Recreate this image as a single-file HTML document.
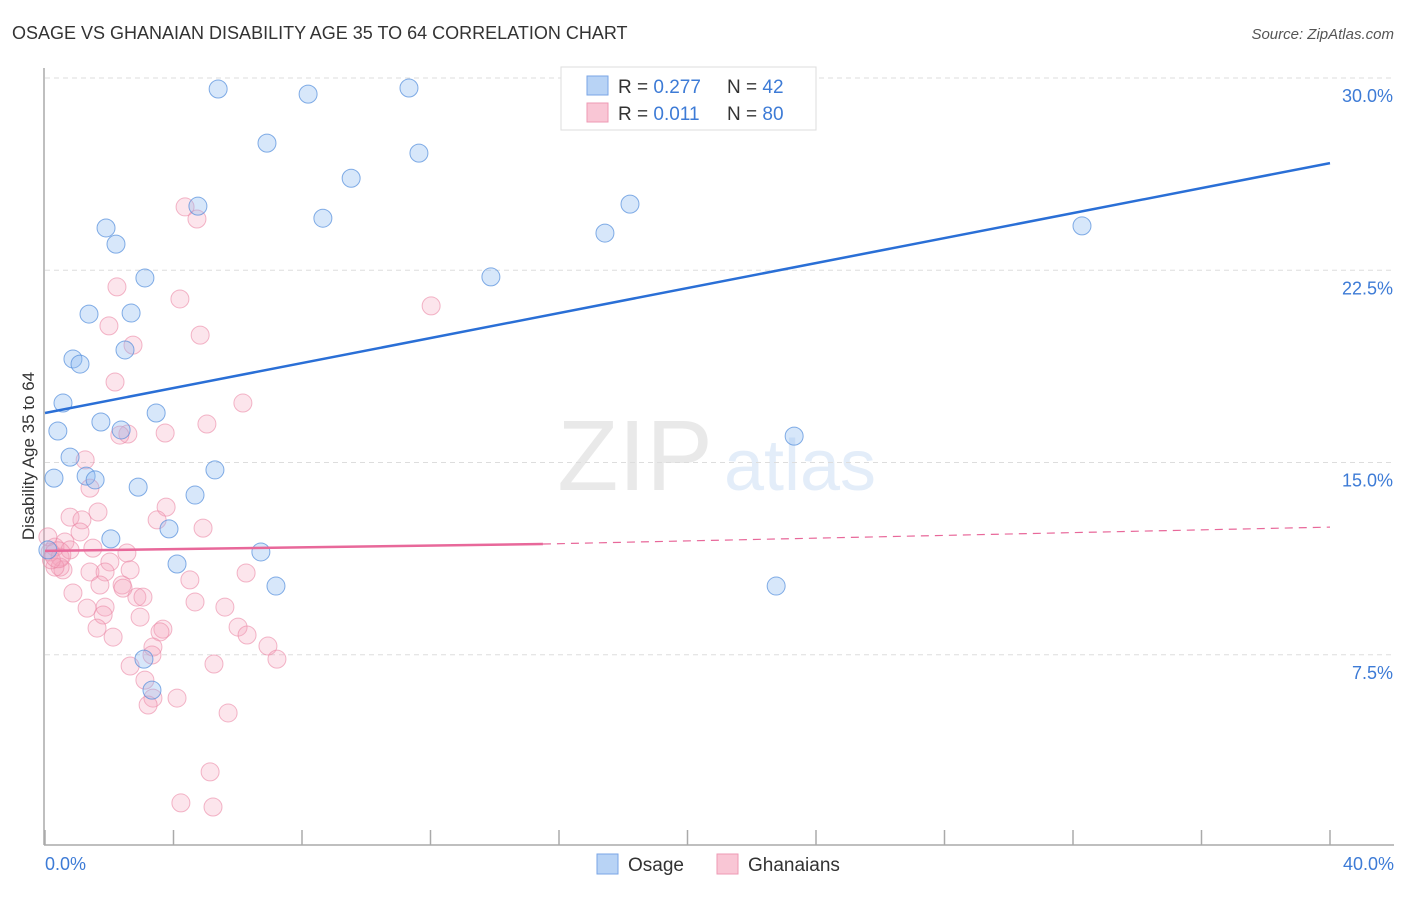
<!DOCTYPE html>
<html><head><meta charset="utf-8"><style>
body{margin:0;background:#fff;font-family:"Liberation Sans",sans-serif}
svg text{font-family:"Liberation Sans",sans-serif}
</style></head><body>
<svg id="chart" width="1406" height="892" viewBox="0 0 1406 892" xmlns="http://www.w3.org/2000/svg">
<text x="12" y="39" font-size="18" fill="#333">OSAGE VS GHANAIAN DISABILITY AGE 35 TO 64 CORRELATION CHART</text>
<text x="1394" y="39" font-size="15" fill="#555" text-anchor="end" font-style="italic">Source: ZipAtlas.com</text>
<g opacity="0.18">
<text x="635" y="490" font-size="100" font-family="Liberation Serif" fill="#888" text-anchor="middle">ZIP</text>
<text x="800" y="490" font-size="72" fill="#6a9de0" text-anchor="middle">atlas</text>
</g>
<g id="grid"></g>
<g id="axes"></g>
<g id="marks"></g>
<text x="34" y="456" font-size="17" fill="#333" text-anchor="middle" transform="rotate(-90 34 456)">Disability Age 35 to 64</text>
<text x="45" y="870" font-size="18" fill="#3d7bd6">0.0%</text>
<text x="1394" y="870" font-size="18" fill="#3d7bd6" text-anchor="end">40.0%</text>
<g>
<rect x="561" y="67" width="255" height="63" fill="#fff" stroke="#ddd"/>
<rect x="587" y="76" width="21" height="19" fill="#b8d3f5" stroke="#7aa6e6"/>
<rect x="587" y="103" width="21" height="19" fill="#f9c6d5" stroke="#ee9ab4"/>
<text x="618" y="93" font-size="19" fill="#333">R = <tspan fill="#3d7bd6">0.277</tspan></text>
<text x="727" y="93" font-size="19" fill="#333">N = <tspan fill="#3d7bd6"> 42</tspan></text>
<text x="618" y="120" font-size="19" fill="#333">R = <tspan fill="#3d7bd6"> 0.011</tspan></text>
<text x="727" y="120" font-size="19" fill="#333">N = <tspan fill="#3d7bd6">80</tspan></text>
</g>
<g>
<rect x="597" y="854" width="21" height="20" fill="#b8d3f5" stroke="#7aa6e6"/>
<text x="628" y="871" font-size="19" fill="#333">Osage</text>
<rect x="717" y="854" width="21" height="20" fill="#f9c6d5" stroke="#ee9ab4"/>
<text x="748" y="871" font-size="19" fill="#333">Ghanaians</text>
</g>
</svg>
<script>
const yTicks=[7.5,15,22.5,30];
const yTickLabels=["7.5%","15.0%","22.5%","30.0%"];
const xTicks=[0,4,8,12,16,20,24,28,32,36,40];
const osageX=[5.39,8.19,11.33,6.91,11.64,9.53,4.76,8.65,18.21,17.43,32.28,1.90,2.21,3.11,13.88,1.37,2.68,0.87,1.09,2.49,0.56,3.46,1.74,2.37,0.40,0.78,23.32,0.28,1.28,1.56,5.29,2.90,4.67,3.86,2.05,6.72,4.11,7.19,22.76,3.08,3.33,0.09];
const osageY=[29.57,29.37,29.61,27.46,27.07,26.09,25.0,24.53,25.08,23.95,24.23,24.15,23.52,22.2,22.24,20.79,20.83,19.04,18.84,19.39,17.32,16.93,16.58,16.27,16.23,15.21,16.03,14.39,14.47,14.32,14.71,14.04,13.73,12.41,12.02,11.51,11.04,10.18,10.18,7.33,6.12,11.59];
const ghanaX=[4.36,4.73,2.24,4.20,12.02,1.99,4.83,2.74,2.18,6.16,5.04,2.58,3.74,2.33,1.25,1.40,3.77,3.49,4.92,1.65,0.78,1.15,1.09,1.49,2.55,2.02,2.65,6.26,0.56,1.40,1.87,1.71,2.40,4.51,0.87,2.43,2.86,3.05,4.67,5.60,1.31,1.87,1.81,2.96,6.01,6.29,1.62,2.12,3.67,3.58,6.94,7.22,3.36,3.33,2.65,5.26,3.11,3.36,3.21,4.11,5.70,5.14,4.23,5.23,0.16,0.31,0.47,0.47,0.62,0.31,0.78,0.09,0.2,0.4];
const ghanaY=[24.97,24.50,21.85,21.38,21.11,20.33,19.97,19.58,18.14,17.32,16.50,16.11,16.15,16.07,15.10,14.00,13.26,12.76,12.44,13.07,12.87,12.76,12.29,11.66,11.47,11.12,10.81,10.69,10.81,10.73,10.73,10.22,10.22,10.42,9.91,10.10,9.75,9.75,9.56,9.36,9.32,9.36,9.05,8.97,8.58,8.27,8.54,8.19,8.50,8.39,7.84,7.33,7.80,7.49,7.06,7.14,6.51,5.81,5.54,5.81,5.23,2.93,1.72,1.56,11.51,11.7,11.31,10.92,11.9,10.92,11.59,12.1,11.2,11.4];
const osageTrend=[16.93,26.68];
const ghanaTrend=[11.55,11.82,12.48];
const ghanaSolidEnd=15.5;
const NS="http://www.w3.org/2000/svg";
const sx=v=>45+v/40*1285;
const sy=v=>847-v/30*769;
function mk(tag,attrs,parent){const e=document.createElementNS(NS,tag);for(const k in attrs)e.setAttribute(k,attrs[k]);document.getElementById(parent).appendChild(e);return e;}
yTicks.forEach((t,i)=>{
  const l=mk('line',{x1:45,x2:1394,y1:sy(t),y2:sy(t),stroke:'#ddd','stroke-dasharray':'5,4'},'grid');
  
  
  const tx=mk('text',{x:1393,y:sy(t)+24,'font-size':18,fill:'#3d7bd6','text-anchor':'end'},'grid');
  tx.textContent=yTickLabels[i];
  
  
});
const ya=mk('line',{x1:44,x2:44,y1:68,y2:845,stroke:'#aaa','stroke-width':1.5},'axes');


const xa=mk('line',{x1:44,x2:1394,y1:845,y2:845,stroke:'#aaa','stroke-width':1.5},'axes');


xTicks.forEach(t=>{
  const l=mk('line',{x1:sx(t),x2:sx(t),y1:830,y2:845,stroke:'#aaa','stroke-width':1.5},'axes');
  
  
});
ghanaX.forEach((x,i)=>{
  const c=mk('circle',{cx:sx(x),cy:sy(ghanaY[i]),r:i===ghanaX.length-1?13:9,fill:'rgba(245,160,185,0.28)',stroke:'rgba(235,135,165,0.6)','stroke-width':1},'marks');
  
  
});
osageX.forEach((x,i)=>{
  const c=mk('circle',{cx:sx(x),cy:sy(osageY[i]),r:9,fill:'rgba(140,185,240,0.35)',stroke:'rgba(80,140,220,0.7)','stroke-width':1},'marks');
  
  
});
const bt=mk('line',{x1:sx(0),y1:sy(osageTrend[0]),x2:sx(40),y2:sy(osageTrend[1]),stroke:'#2a6fd6','stroke-width':2.5},'marks');


const pt=mk('line',{x1:sx(0),y1:sy(ghanaTrend[0]),x2:sx(ghanaSolidEnd),y2:sy(ghanaTrend[1]),stroke:'#e8689a','stroke-width':2.5},'marks');


const pd=mk('line',{x1:sx(ghanaSolidEnd),y1:sy(ghanaTrend[1]),x2:sx(40),y2:sy(ghanaTrend[2]),stroke:'#e8689a','stroke-width':1.2,'stroke-dasharray':'8,6'},'marks');


</script>
</body></html>
